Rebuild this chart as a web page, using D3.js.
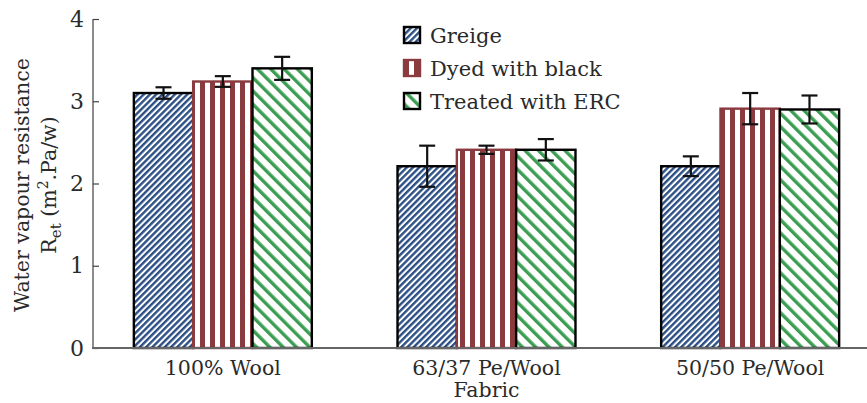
<!DOCTYPE html>
<html>
<head>
<meta charset="utf-8">
<script src="https://cdn.jsdelivr.net/npm/d3@7"></script>
<style>
  body { margin: 0; background: #fff; }
  text { font-family: "DejaVu Serif", "Liberation Serif", serif; fill: #2a2a2a; }
</style>
</head>
<body>
<svg id="chart" width="867" height="403"></svg>
<script>
// data
const fabrics = ['100% Wool', '63/37 Pe/Wool', '50/50 Pe/Wool'];
const seriesNames = ['Greige', 'Dyed with black', 'Treated with ERC'];
const greige = [3.10, 2.21, 2.21];
const dyed = [3.24, 2.41, 2.91];
const erc = [3.40, 2.41, 2.90];
const greigeErr = [0.07, 0.25, 0.12];
const dyedErr = [0.065, 0.05, 0.19];
const ercErr = [0.14, 0.13, 0.17];
const yTicks = [0, 1, 2, 3, 4];

const svg = d3.select('#chart');
const x = d3.scaleLinear().domain([0.5, 3.5]).range([91, 882]);
const y = d3.scaleLinear().domain([0, 4]).range([348, 19]);
const barW = 0.225;

const series = [
  {name: seriesNames[0], vals: greige, err: greigeErr, pat: 'pGreige', stroke: '#000'},
  {name: seriesNames[1], vals: dyed, err: dyedErr, pat: 'pDyed', stroke: '#8a3b3f'},
  {name: seriesNames[2], vals: erc, err: ercErr, pat: 'pErc', stroke: '#000'}
];

// hatch patterns
const defs = svg.append('defs');
function stripes(id, period, w, color, angle) {
  const p = defs.append('pattern').attr('id', id)
    .attr('patternUnits', 'userSpaceOnUse')
    .attr('width', period).attr('height', period)
    .attr('patternTransform', 'rotate(' + angle + ')');
  p.append('rect').attr('width', period).attr('height', period).attr('fill', '#fff');
  p.append('rect').attr('width', w).attr('height', period).attr('fill', color);
}
stripes('pGreige', 4.4, 2.4, '#2c4f85', 45);
stripes('pDyed', 10, 5, '#8a3b3f', 0);
stripes('pErc', 9.4, 3.4, '#3c9e53', -45);

// bars
series.forEach((s, si) => {
  const off = (si - 1) * barW;
  const g = svg.append('g');
  g.selectAll('rect').data(s.vals).enter().append('rect')
    .attr('x', (d, i) => x(i + 1 + off - barW / 2))
    .attr('width', x(barW) - x(0))
    .attr('y', d => y(d))
    .attr('height', d => y(0) - y(d))
    .attr('fill', 'url(#' + s.pat + ')')
    .attr('stroke', s.stroke)
    .attr('stroke-width', 2.4);
});

// error bars
series.forEach((s, si) => {
  const off = (si - 1) * barW;
  const g = svg.append('g').attr('stroke', '#111').attr('stroke-width', 2.2);
  s.vals.forEach((v, i) => {
    const cx = x(i + 1 + off);
    const lo = y(v - s.err[i]), hi = y(v + s.err[i]);
    g.append('line').attr('x1', cx).attr('x2', cx).attr('y1', lo).attr('y2', hi);
    g.append('line').attr('x1', cx - 8).attr('x2', cx + 8).attr('y1', lo).attr('y2', lo);
    g.append('line').attr('x1', cx - 8).attr('x2', cx + 8).attr('y1', hi).attr('y2', hi);
  });
});

// axes
const yAxis = svg.append('g').attr('transform', 'translate(' + 93 + ',0)')
  .call(d3.axisLeft(y).tickValues(yTicks).tickSize(-6).tickPadding(9).tickFormat(d3.format('d')));
yAxis.select('.domain').attr('stroke', '#666').attr('stroke-width', 1.5).attr('d', 'M0,' + y(4) + 'V' + y(0));
yAxis.selectAll('.tick line').attr('stroke', '#444').attr('stroke-width', 1.2);
yAxis.selectAll('.tick text').style('font-size', '22px').attr('fill', '#2a2a2a')
  .style('font-family', '"DejaVu Serif", serif');

svg.append('line').attr('x1', 92).attr('x2', 867).attr('y1', y(0)).attr('y2', y(0))
  .attr('stroke', '#666').attr('stroke-width', 2);

svg.append('g').selectAll('text').data(fabrics).enter().append('text')
  .attr('x', (d, i) => x(i + 1))
  .attr('y', 375)
  .attr('text-anchor', 'middle')
  .style('font-size', '20.5px')
  .text(d => d);

svg.append('text').attr('x', x(2)).attr('y', 397).attr('text-anchor', 'middle')
  .style('font-size', '20.5px').text('Fabric');

// y label, two lines
const yl = svg.append('g').attr('transform', 'translate(0,185) rotate(-90)');
yl.append('text').attr('x', 0).attr('y', 29).attr('text-anchor', 'middle')
  .style('font-size', '20.5px').text('Water vapour resistance');
const l2 = yl.append('text').attr('x', 0).attr('y', 56).attr('text-anchor', 'middle')
  .style('font-size', '20.5px');
l2.append('tspan').text('R');
l2.append('tspan').attr('dy', 5).style('font-size', '15px').text('et');
l2.append('tspan').attr('dy', -5).text(' (m');
l2.append('tspan').attr('dy', -8).style('font-size', '14px').text('2');
l2.append('tspan').attr('dy', 8).text('.Pa/w)');

// legend
const leg = svg.append('g').attr('transform', 'translate(404,27)');
series.forEach((s, i) => {
  const r = leg.append('g').attr('transform', 'translate(0,' + i * 33 + ')');
  r.append('rect').attr('width', 16).attr('height', 16)
    .attr('fill', 'url(#' + s.pat + ')').attr('stroke', s.stroke).attr('stroke-width', 2.4);
  r.append('text').attr('x', 26).attr('y', 15.5).style('font-size', '21px').text(s.name);
});
</script>
</body>
</html>
